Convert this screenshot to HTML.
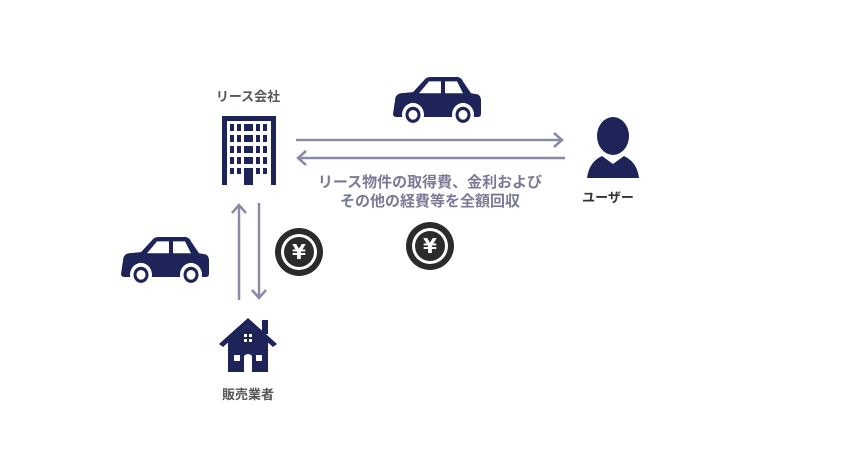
<!DOCTYPE html>
<html><head><meta charset="utf-8"><style>
body{margin:0;background:#fff;}
svg text{font-family:"Liberation Sans","Noto Sans CJK JP",sans-serif;font-weight:bold;}
</style></head><body>
<svg width="860" height="450" viewBox="0 0 860 450" xmlns="http://www.w3.org/2000/svg">
<defs>
<g id="car">
<path d="M2 22 Q2 16 8 15 L20 14 L32 2 Q34 0 38 0 L64 0 Q68 0 70 4 L78 15 L84 16 Q88 17 88 22 L88 34 Q88 37 85 37 L3 37 Q0 37 0 34 Z" fill="#1f2458"/>
<path d="M36 4 L48 4 L48 15 L26 15 Z M52 4 L64 4 L70 15 L52 15 Z" fill="#fff"/>
<circle cx="20" cy="35" r="11" fill="#fff"/><circle cx="20" cy="35" r="7.5" fill="#1f2458"/><circle cx="20" cy="35" r="4.5" fill="#fff"/>
<circle cx="70" cy="35" r="11" fill="#fff"/><circle cx="70" cy="35" r="7.5" fill="#1f2458"/><circle cx="70" cy="35" r="4.5" fill="#fff"/>
</g>
<g id="coin">
<circle r="24" fill="#2b2b2b"/><circle r="18" fill="#fff"/><circle r="15" fill="#2b2b2b"/>
<text y="7" text-anchor="middle" font-size="20" fill="#fff" style="font-family:'DejaVu Sans',sans-serif;font-weight:bold">¥</text>
</g>
</defs>
<text x="248" y="101" font-size="13" fill="#555" text-anchor="middle">リース会社</text>
<rect x="222" y="116" width="54" height="69" fill="#1f2458"/>
<rect x="227" y="121" width="44" height="64" fill="#fff"/>
<g fill="#1f2458">
<rect x="230" y="124" width="4" height="7"/><rect x="237" y="124" width="4" height="7"/><rect x="244" y="124" width="9" height="7"/><rect x="256" y="124" width="4" height="7"/><rect x="263" y="124" width="4" height="7"/>
<rect x="230" y="135" width="4" height="7"/><rect x="237" y="135" width="4" height="7"/><rect x="244" y="135" width="9" height="7"/><rect x="256" y="135" width="4" height="7"/><rect x="263" y="135" width="4" height="7"/>
<rect x="230" y="146" width="4" height="7"/><rect x="237" y="146" width="4" height="7"/><rect x="244" y="146" width="9" height="7"/><rect x="256" y="146" width="4" height="7"/><rect x="263" y="146" width="4" height="7"/>
<rect x="230" y="157" width="4" height="7"/><rect x="237" y="157" width="4" height="7"/><rect x="244" y="157" width="9" height="7"/><rect x="256" y="157" width="4" height="7"/><rect x="263" y="157" width="4" height="7"/>
<rect x="230" y="168" width="4" height="6"/><rect x="237" y="168" width="4" height="6"/><rect x="244" y="168" width="9" height="17"/><rect x="256" y="168" width="4" height="6"/><rect x="263" y="168" width="4" height="6"/>
</g>
<g stroke="#8a8aa8" stroke-width="2.5" fill="none">
<line x1="296" y1="140" x2="562" y2="140"/><polyline points="554,133 562,140 554,147"/>
<line x1="298" y1="158" x2="565" y2="158"/><polyline points="306,151 298,158 306,165"/>
<line x1="239" y1="300" x2="239" y2="205"/><polyline points="232,213 239,205 246,213"/>
<line x1="259" y1="203" x2="259" y2="298"/><polyline points="252,290 259,298 266,290"/>
</g>
<g transform="translate(393,77) scale(1,1.08)"><use href="#car"/></g>
<g transform="translate(121,237) scale(1,1.08)"><use href="#car"/></g>
<ellipse cx="613" cy="136" rx="16" ry="19" fill="#1f2458"/>
<path d="M587 178 Q589 162 602 156 L613 164 L624 156 Q637 162 639 178 Z" fill="#1f2458"/>
<text x="608" y="202" font-size="13" fill="#333" text-anchor="middle">ユーザー</text>
<text x="430" y="187" font-size="15" fill="#7a7a96" text-anchor="middle">リース物件の取得費、金利および</text>
<text x="430" y="206" font-size="15" fill="#7a7a96" text-anchor="middle">その他の経費等を全額回収</text>
<use href="#coin" x="299" y="252"/>
<use href="#coin" x="430" y="246"/>
<path d="M219 344 L248 318 L277 344 L273 347 L248 325 L223 347 Z" fill="#1f2458"/>
<rect x="262" y="320" width="6" height="14" fill="#1f2458"/>
<path d="M228 342 L248 325 L268 342 L268 372 L228 372 Z" fill="#1f2458"/>
<g fill="#fff"><rect x="244" y="334" width="3" height="3"/><rect x="249" y="334" width="3" height="3"/><rect x="244" y="339" width="3" height="3"/><rect x="249" y="339" width="3" height="3"/>
<rect x="234" y="355" width="6" height="6"/><rect x="256" y="355" width="6" height="6"/><path d="M244 372 L244 356 Q248 352 252 356 L252 372 Z"/></g>
<text x="248" y="399" font-size="13" fill="#555" text-anchor="middle">販売業者</text>
</svg>
</body></html>
